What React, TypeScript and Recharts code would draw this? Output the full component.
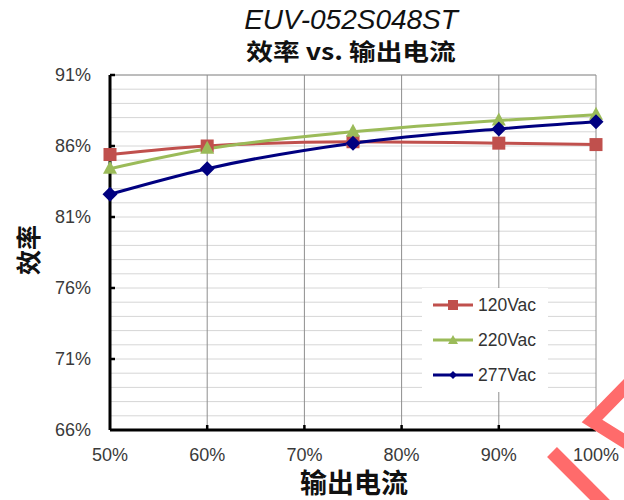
import React from "react";
import { LineChart, Line, XAxis, YAxis, CartesianGrid, ReferenceLine } from "recharts";

const loads = [50, 60, 75, 90, 100];
const v120 = [85.4, 86.0, 86.3, 86.2, 86.1];
const v220 = [84.4, 85.8, 87.0, 87.8, 88.2];
const v277 = [82.6, 84.4, 86.2, 87.2, 87.7];
const xTicks = [50, 60, 70, 80, 90, 100];
const yLabelTicks = [66, 71, 76, 81, 86, 91];
const yGridTicks = [66, 67, 68, 69, 70, 71, 72, 73, 74, 75, 76, 77, 78, 79, 80, 81, 82, 83, 84, 85, 86, 87, 88, 89, 90, 91];
const titleLine1 = "EUV-052S048ST";
const titleLine2 = "效率 vs. 输出电流";
const xLabel = "输出电流";
const yLabel = "效率";
const seriesNames = ["120Vac", "220Vac", "277Vac"];

const data = loads.map((l, i) => ({ load: l, a: v120[i], b: v220[i], c: v277[i] }));

const RED = "#C0504D";
const GREEN = "#9BBB59";
const BLUE = "#000080";
const FONT = "'Liberation Sans', Arial, sans-serif";
const CJK = "'Noto Sans CJK SC', 'Liberation Sans', sans-serif";
const X_MARGIN = 18;
const Y_MARGIN = 19;

const Square = (p: any) => {
  const { cx, cy, key } = p;
  return <rect key={key} x={cx - 6.5} y={cy - 6.5} width={13} height={13} fill={RED} />;
};
const Triangle = (p: any) => {
  const { cx, cy, key } = p;
  return <polygon key={key} points={`${cx},${cy - 8} ${cx + 7},${cy + 5} ${cx - 7},${cy + 5}`} fill={GREEN} />;
};
const Diamond = (p: any) => {
  const { cx, cy, key } = p;
  return <polygon key={key} points={`${cx},${cy - 7.5} ${cx + 7.5},${cy} ${cx},${cy + 7.5} ${cx - 7.5},${cy}`} fill={BLUE} />;
};

const XTick = (p: any) => {
  const { x, y, payload } = p;
  const axisY = y - X_MARGIN;
  const v = payload.value;
  return (
    <g>
      {v > 50 && v < 100 && <line x1={x} y1={axisY} x2={x} y2={axisY - 5} stroke="#000" strokeWidth={2.5} />}
      <text x={x} y={y} dy="0.71em" textAnchor="middle" fill="#3a3a3a" fontSize={18} fontFamily={FONT}>{`${v}%`}</text>
    </g>
  );
};

const YTick = (p: any) => {
  const { x, y, payload } = p;
  const v = payload.value;
  if (!yLabelTicks.includes(v)) return <g />;
  const axisX = x + Y_MARGIN;
  return (
    <g>
      {v > 66 && <line x1={axisX} y1={y} x2={axisX + 5} y2={y} stroke="#000" strokeWidth={2.5} />}
      <text x={x} y={y} dy="0.355em" textAnchor="end" fill="#3a3a3a" fontSize={18} fontFamily={FONT}>{`${v}%`}</text>
    </g>
  );
};

const legendColors = [RED, GREEN, BLUE];
const legendShapes = ["square", "triangle", "diamond"];

export default function App() {
  return (
    <div style={{ position: "absolute", left: 0, top: 0, width: 624, height: 500, background: "#fff", overflow: "hidden" }}>
      <div style={{ position: "absolute", left: 0, top: 0 }}>
        <LineChart width={624} height={500} data={data} margin={{ top: 75, right: 28, bottom: 40, left: 0 }}>
          <CartesianGrid vertical={false} stroke="#D6D6D6" strokeWidth={1} />
          <CartesianGrid horizontal={false} stroke="#8E8E8E" strokeWidth={1} />
          <ReferenceLine y={91} stroke="#8E8E8E" strokeWidth={1} />
          <XAxis
            dataKey="load"
            type="number"
            domain={[50, 100]}
            ticks={xTicks}
            height={30}
            tickLine={false}
            tickSize={0}
            tickMargin={X_MARGIN}
            axisLine={{ stroke: "#000", strokeWidth: 3 }}
            tick={XTick}
            interval={0}
          />
          <YAxis
            domain={[66, 91]}
            ticks={yGridTicks}
            width={110}
            tickLine={false}
            tickSize={0}
            tickMargin={Y_MARGIN}
            axisLine={{ stroke: "#000", strokeWidth: 3 }}
            tick={YTick}
            interval={0}
          />
          <Line dataKey="a" name={seriesNames[0]} type="monotone" stroke={RED} strokeWidth={3} dot={Square} isAnimationActive={false} />
          <Line dataKey="b" name={seriesNames[1]} type="monotone" stroke={GREEN} strokeWidth={3} dot={Triangle} isAnimationActive={false} />
          <Line dataKey="c" name={seriesNames[2]} type="monotone" stroke={BLUE} strokeWidth={3} dot={Diamond} isAnimationActive={false} />
        </LineChart>
      </div>
      <div style={{ position: "absolute", left: 422, top: 288, width: 126, height: 104, background: "#fff" }}>
        {seriesNames.map((name, i) => (
          <div key={name} style={{ position: "absolute", left: 0, top: 6 + i * 35, height: 22, display: "flex", alignItems: "center" }}>
            <svg width={54} height={22}>
              <line x1={11} y1={11} x2={51} y2={11} stroke={legendColors[i]} strokeWidth={3} />
              {legendShapes[i] === "square" && <rect x={26} y={6} width={10} height={10} fill={legendColors[i]} />}
              {legendShapes[i] === "triangle" && <polygon points="31,6 36,15 26,15" fill={legendColors[i]} />}
              {legendShapes[i] === "diamond" && <polygon points="31,7 35,11 31,15 27,11" fill={legendColors[i]} />}
            </svg>
            <span style={{ fontFamily: FONT, fontSize: 17.5, color: "#333", marginLeft: 2 }}>{name}</span>
          </div>
        ))}
      </div>
      <svg style={{ position: "absolute", left: 0, top: 0, pointerEvents: "none" }} width={624} height={500}>
        <polyline points="632,380 592,421 632,446" fill="none" stroke="#FF6B6B" strokeWidth={13} />
        <line x1={552} y1={452} x2={610} y2={510} stroke="#FF6B6B" strokeWidth={14} />
      </svg>
      <div style={{ position: "absolute", left: 0, width: 702, top: 4, textAlign: "center", fontFamily: FONT, fontStyle: "italic", fontSize: 28, color: "#111", lineHeight: "32px" }}>
        {titleLine1}
      </div>
      <div style={{ position: "absolute", left: 0, width: 702, top: 35, textAlign: "center", fontFamily: CJK, fontWeight: 700, fontSize: 23, color: "#111", lineHeight: "30px", transform: "scaleX(1.16)" }}>
        {titleLine2}
      </div>
      <div style={{ position: "absolute", left: 0, width: 708, top: 465, textAlign: "center", fontFamily: CJK, fontWeight: 700, fontSize: 27, color: "#111", lineHeight: "34px" }}>
        {xLabel}
      </div>
      <div style={{ position: "absolute", left: 27, top: 250, width: 0, height: 0 }}>
        <div style={{ position: "absolute", transform: "translate(-50%, -50%) rotate(-90deg)", fontFamily: CJK, fontWeight: 700, fontSize: 25, color: "#111", whiteSpace: "nowrap", lineHeight: "30px" }}>
          {yLabel}
        </div>
      </div>
    </div>
  );
}
